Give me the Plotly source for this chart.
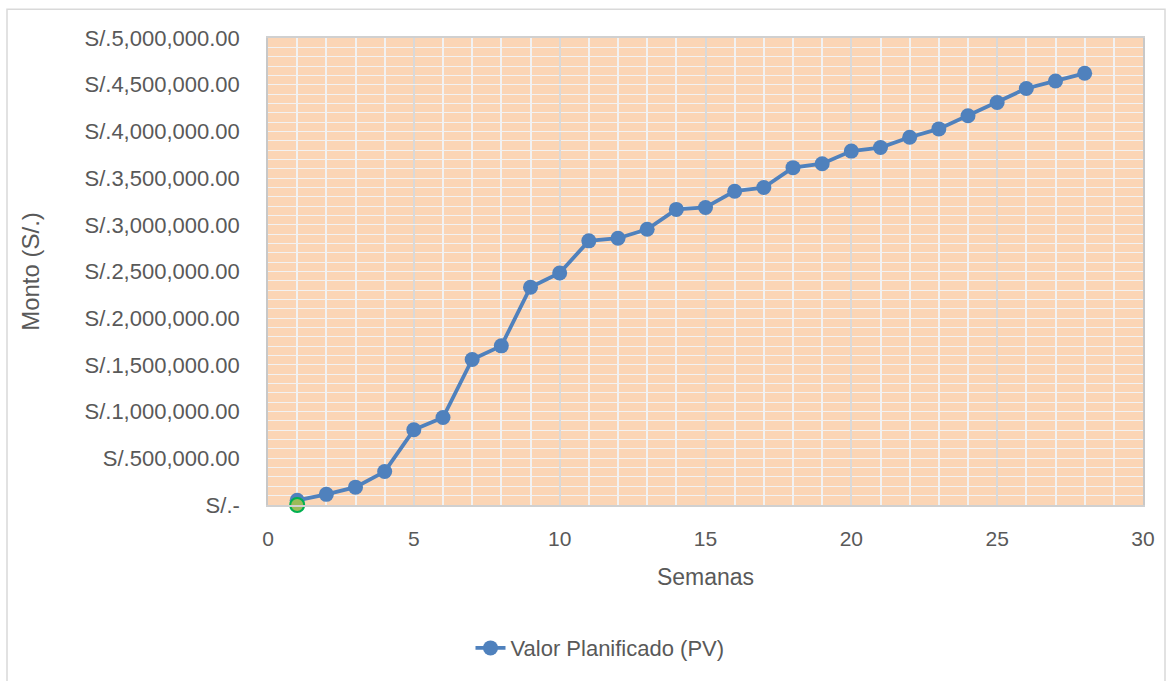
import plotly.graph_objects as go

# Planned value (PV) per week
semanas = list(range(1, 29))
valor_planificado = [
    50000, 114000, 191000, 358000, 805000, 937000, 1558000, 1704000,
    2332000, 2484000, 2828000, 2856000, 2952000, 3165000, 3186000, 3360000,
    3399000, 3612000, 3654000, 3789000, 3827000, 3938000, 4027000, 4168000,
    4310000, 4460000, 4540000, 4622000,
]

# Starting point of the curve
inicio_x = [1]
inicio_y = [0]

y_tickvals = [0, 500000, 1000000, 1500000, 2000000, 2500000,
              3000000, 3500000, 4000000, 4500000, 5000000]
y_ticktext = ["S/.-", "S/.500,000.00", "S/.1,000,000.00", "S/.1,500,000.00",
              "S/.2,000,000.00", "S/.2,500,000.00", "S/.3,000,000.00",
              "S/.3,500,000.00", "S/.4,000,000.00", "S/.4,500,000.00",
              "S/.5,000,000.00"]
x_tickvals = [0, 5, 10, 15, 20, 25, 30]

FONT = "Liberation Sans, Arial, sans-serif"
TXT = "#595959"
BLUE = "#4F81BD"

fig = go.Figure()

fig.add_trace(go.Scatter(
    x=semanas, y=valor_planificado, mode="lines+markers",
    name="Valor Planificado (PV)",
    line=dict(color=BLUE, width=3.8),
    marker=dict(color=BLUE, size=15),
    cliponaxis=False,
))

fig.add_trace(go.Scatter(
    x=inicio_x, y=inicio_y, mode="markers", showlegend=False,
    marker=dict(color="#9BBB59", size=14, line=dict(color="#00B050", width=2)),
    cliponaxis=False,
))

W, H = 1172, 681
L, R, T, B = 268, 29, 38, 173
pw, ph = W - L - R, H - T - B


def px_x(p):
    return (p - L) / pw


def px_y(p):
    return (H - B - p) / ph


fig.update_layout(
    width=W, height=H,
    margin=dict(l=L, r=R, t=T, b=B),
    paper_bgcolor="white",
    plot_bgcolor="#FBD5B5",
    font=dict(family=FONT, color=TXT, size=21),
    showlegend=True,
    legend=dict(
        orientation="h", x=px_x(600), xanchor="center",
        y=px_y(652), yanchor="middle",
        font=dict(size=22, color=TXT), bgcolor="rgba(0,0,0,0)",
    ),
    xaxis=dict(
        range=[0, 30], tickmode="array", tickvals=x_tickvals,
        showgrid=True, gridcolor="#D9D9D9", gridwidth=1.5,
        minor=dict(tickmode="linear", tick0=0, dtick=1, showgrid=True,
                   gridcolor="#F2F2F2", gridwidth=1.5),
        showline=True, linecolor="#D0D0D0", linewidth=1.5, mirror=True,
        ticks="", zeroline=False, ticklabelstandoff=14,
        tickfont=dict(size=21, color=TXT),
        title=dict(text="Semanas", font=dict(size=23, color=TXT), standoff=20),
    ),
    yaxis=dict(
        range=[0, 5000000], tickmode="array", tickvals=y_tickvals,
        ticktext=y_ticktext,
        showgrid=True, gridcolor="#F2F2F2", gridwidth=1.2,
        minor=dict(tickmode="linear", tick0=0, dtick=100000, showgrid=True,
                   gridcolor="#F2F2F2", gridwidth=1.2),
        showline=True, linecolor="#C8C8C8", linewidth=1.5, mirror=True,
        ticks="", zeroline=False, ticklabelstandoff=22,
        tickfont=dict(size=22, color=TXT),
        title=dict(text="Monto (S/.)", font=dict(size=24, color=TXT), standoff=38),
    ),
    shapes=[dict(
        type="rect", xref="paper", yref="paper",
        x0=px_x(7), x1=px_x(1165), y0=px_y(700), y1=px_y(9),
        line=dict(color="#D9D9D9", width=1.5), fillcolor="rgba(0,0,0,0)",
        layer="below",
    )],
)

fig.write_html("out.html")
